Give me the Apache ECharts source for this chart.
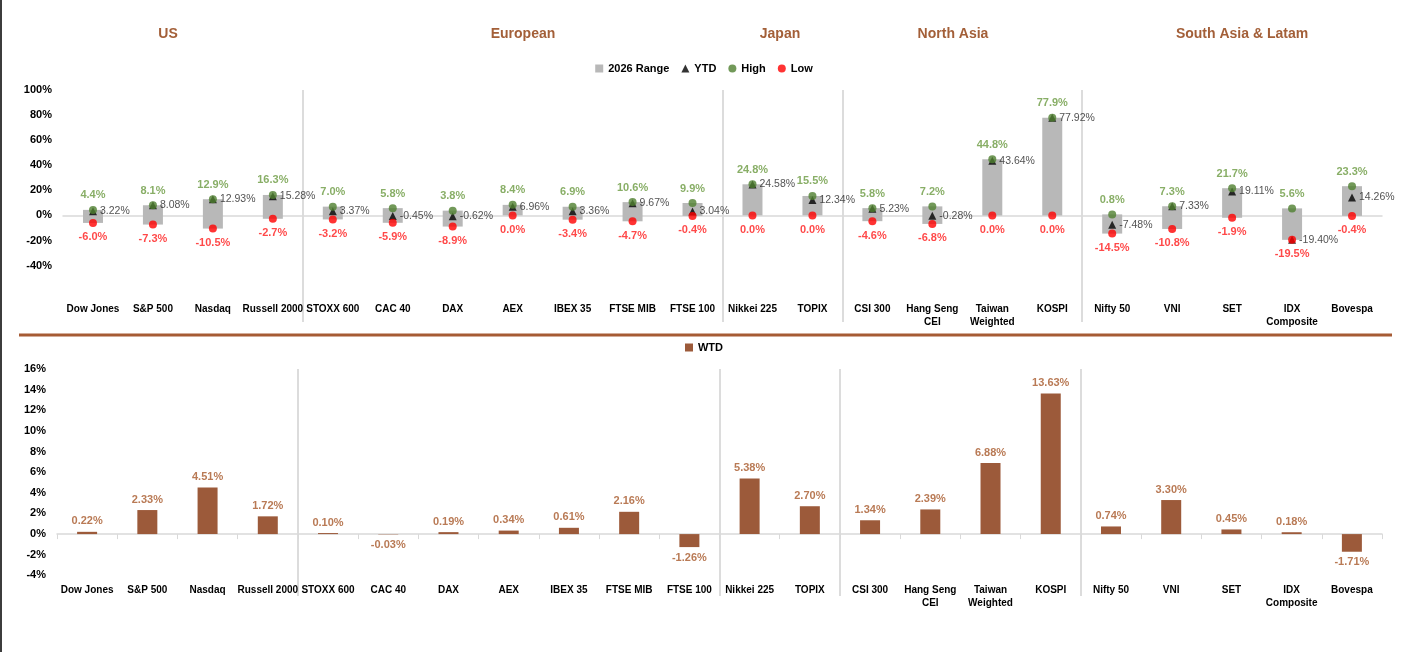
<!DOCTYPE html>
<html>
<head>
<meta charset="utf-8">
<title>2026 Range / WTD</title>
<script src="https://cdn.jsdelivr.net/npm/echarts@6/dist/echarts.min.js"></script>
<style>
  html, body { margin: 0; padding: 0; background: #fff; }
  #chart { width: 1408px; height: 652px; }
</style>
</head>
<body>
<div id="chart"></div>
<script>
// index names
var categories = ['Dow Jones', 'S&P 500', 'Nasdaq', 'Russell 2000', 'STOXX 600', 'CAC 40', 'DAX',
  'AEX', 'IBEX 35', 'FTSE MIB', 'FTSE 100', 'Nikkei 225', 'TOPIX', 'CSI 300', 'Hang Seng\nCEI',
  'Taiwan\nWeighted', 'KOSPI', 'Nifty 50', 'VNI', 'SET', 'IDX\nComposite', 'Bovespa'];

// 2026 range (%)
var highs = [4.4, 8.1, 12.9, 16.3, 7.0, 5.8, 3.8, 8.4, 6.9, 10.6, 9.9, 24.8, 15.5, 5.8, 7.2, 44.8, 77.9, 0.8, 7.3, 21.7, 5.6, 23.3];
var lows = [-6.0, -7.3, -10.5, -2.7, -3.2, -5.9, -8.9, 0.0, -3.4, -4.7, -0.4, 0.0, 0.0, -4.6, -6.8, 0.0, 0.0, -14.5, -10.8, -1.9, -19.5, -0.4];
var ytd = [3.22, 8.08, 12.93, 15.28, 3.37, -0.45, -0.62, 6.96, 3.36, 9.67, 3.04, 24.58, 12.34, 5.23, -0.28, 43.64, 77.92, -7.48, 7.33, 19.11, -19.40, 14.26];

// week to date (%)
var wtd = [0.22, 2.33, 4.51, 1.72, 0.10, -0.03, 0.19, 0.34, 0.61, 2.16, -1.26, 5.38, 2.70, 1.34, 2.39, 6.88, 13.63, 0.74, 3.30, 0.45, 0.18, -1.71];

// region headers and where groups split (category index that starts a new group)
var regions = ['US', 'European', 'Japan', 'North Asia', 'South Asia & Latam'];
var regionX = [168, 523, 780, 953, 1242];
var groupStarts = [4, 11, 13, 17];

var FONT = "'Liberation Sans', Arial, sans-serif";
var BROWN = '#a35f38';

var myChart = echarts.init(document.getElementById('chart'));

var rangeSize = highs.map(function (h, i) { return +(h - lows[i]).toFixed(2); });
var wtdData = wtd.map(function (v) {
  return { value: v, label: { position: v < 0 ? 'bottom' : 'top' } };
});

function sepLine(idx) { return groupStarts.indexOf(idx) >= 0; }
// the band axis always adds a closing line at the right edge; hide that one
var sepColors = groupStarts.map(function () { return '#d0d0d0'; }).concat(['rgba(0,0,0,0)']);

var titles = regions.map(function (r, i) {
  return {
    text: r, left: regionX[i], top: 27, textAlign: 'center', padding: 0,
    textStyle: { color: BROWN, fontSize: 14, fontWeight: 'bold', fontFamily: FONT }
  };
});

var option = {
  animation: false,
  title: titles,
  legend: [
    {
      data: [
        { name: '2026 Range', icon: 'rect' },
        { name: 'YTD' },
        { name: 'High' },
        { name: 'Low' }
      ],
      top: 58, left: 'center',
      itemWidth: 8, itemHeight: 8, itemGap: 12,
      textStyle: { fontSize: 11, fontWeight: 'bold', color: '#000', fontFamily: FONT }
    },
    {
      data: [{ name: 'WTD', icon: 'rect' }],
      top: 337, left: 'center',
      itemWidth: 8, itemHeight: 8,
      textStyle: { fontSize: 11, fontWeight: 'bold', color: '#000', fontFamily: FONT }
    }
  ],
  grid: [
    { left: 63, right: 26, top: 90, bottom: 330 },
    { left: 57, right: 26, top: 369, bottom: 56 }
  ],
  xAxis: [
    {
      type: 'category', gridIndex: 0, data: categories, position: 'bottom',
      axisLine: { show: false, onZero: false }, axisTick: { show: false },
      axisLabel: { interval: 0, margin: -19, color: '#000', fontSize: 10, fontWeight: 'bold', fontFamily: FONT, lineHeight: 13 },
      splitLine: { show: true, interval: sepLine, lineStyle: { color: sepColors, width: 1.5 } }
    },
    {
      type: 'category', gridIndex: 0, data: categories, position: 'top',
      axisLine: { show: true, onZero: true, lineStyle: { color: '#d9d9d9', width: 1.5 } },
      axisTick: { show: false }, axisLabel: { show: false }, splitLine: { show: false }
    },
    {
      type: 'category', gridIndex: 1, data: categories, position: 'bottom',
      axisLine: { show: false, onZero: false }, axisTick: { show: false },
      axisLabel: { interval: 0, margin: -12, color: '#000', fontSize: 10, fontWeight: 'bold', fontFamily: FONT, lineHeight: 13 },
      splitLine: { show: true, interval: sepLine, lineStyle: { color: sepColors, width: 1.5 } }
    },
    {
      type: 'category', gridIndex: 1, data: categories, position: 'top',
      axisLine: { show: true, onZero: true, lineStyle: { color: '#d9d9d9', width: 1.5 } },
      axisTick: { show: true, interval: 0, inside: true, length: 5, lineStyle: { color: '#d9d9d9' } },
      axisLabel: { show: false }, splitLine: { show: false }
    }
  ],
  yAxis: [
    {
      type: 'value', gridIndex: 0, min: -85, max: 100, interval: 5,
      axisLine: { show: false }, axisTick: { show: false }, splitLine: { show: false },
      axisLabel: {
        margin: 11, color: '#000', fontSize: 11, fontWeight: 'bold', fontFamily: FONT,
        formatter: function (v) { return (v % 20 === 0 && v >= -40) ? v + '%' : ''; }
      }
    },
    {
      type: 'value', gridIndex: 1, min: -6, max: 16, interval: 2,
      axisLine: { show: false }, axisTick: { show: false }, splitLine: { show: false },
      axisLabel: {
        margin: 11, color: '#000', fontSize: 11, fontWeight: 'bold', fontFamily: FONT,
        formatter: function (v) { return v >= -4 ? v + '%' : ''; }
      }
    }
  ],
  series: [
    {
      name: 'base', type: 'bar', xAxisIndex: 0, yAxisIndex: 0,
      stack: 'range', stackStrategy: 'all', barWidth: 20, silent: true,
      itemStyle: { color: 'rgba(0,0,0,0)' },
      data: lows
    },
    {
      name: '2026 Range', type: 'bar', xAxisIndex: 0, yAxisIndex: 0,
      stack: 'range', stackStrategy: 'all', barWidth: 20,
      itemStyle: { color: '#b8b8b8' },
      data: rangeSize
    },
    {
      name: 'YTD', type: 'scatter', xAxisIndex: 0, yAxisIndex: 0,
      symbol: 'triangle', symbolSize: 8,
      itemStyle: { color: '#000' },
      label: {
        show: true, position: 'right', distance: 3, color: '#262626', fontSize: 10.5, fontFamily: FONT,
        formatter: function (p) { return p.value.toFixed(2) + '%'; }
      },
      data: ytd
    },
    {
      name: 'High', type: 'scatter', xAxisIndex: 0, yAxisIndex: 0,
      symbol: 'circle', symbolSize: 8,
      itemStyle: { color: '#4f7f2f' },
      label: {
        show: true, position: 'top', distance: 5, color: '#6a9a40', fontSize: 11, fontWeight: 'bold', fontFamily: FONT,
        formatter: function (p) { return p.value.toFixed(1) + '%'; }
      },
      data: highs
    },
    {
      name: 'Low', type: 'scatter', xAxisIndex: 0, yAxisIndex: 0,
      symbol: 'circle', symbolSize: 8,
      itemStyle: { color: '#ff0000' },
      label: {
        show: true, position: 'bottom', distance: 5, color: '#ff1a1a', fontSize: 11, fontWeight: 'bold', fontFamily: FONT,
        formatter: function (p) { return p.value.toFixed(1) + '%'; }
      },
      data: lows
    },
    {
      name: 'WTD', type: 'bar', xAxisIndex: 2, yAxisIndex: 1,
      barWidth: 20,
      itemStyle: { color: '#9c5a3a' },
      label: {
        show: true, distance: 5, color: '#b97a55', fontSize: 11, fontWeight: 'bold', fontFamily: FONT,
        formatter: function (p) { return p.value.toFixed(2) + '%'; }
      },
      data: wtdData
    }
  ],
  graphic: [
    { type: 'rect', left: 0, top: 0, shape: { width: 2, height: 652 }, style: { fill: '#3c3c3c' }, silent: true },
    { type: 'line', shape: { x1: 19, y1: 335, x2: 1392, y2: 335 }, style: { stroke: '#a65b34', lineWidth: 3 }, silent: true }
  ]
};

myChart.setOption(option);
</script>
</body>
</html>
